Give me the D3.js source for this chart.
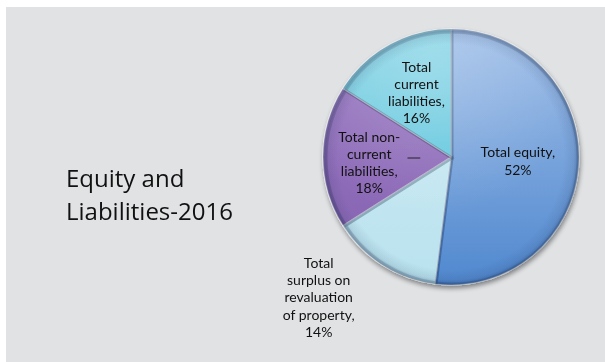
<!DOCTYPE html>
<html>
<head>
<meta charset="utf-8">
<script src="https://cdn.jsdelivr.net/npm/d3@7/dist/d3.min.js"></script>
<style>
  html, body { margin: 0; padding: 0; background: #ffffff; }
  svg { display: block; }
</style>
</head>
<body>
<svg id="chart" width="605" height="362"></svg>
<script>
// Share of equity and liabilities, 2016 (percent)
const categories = [
  "Total equity",
  "Total surplus on revaluation of property",
  "Total non-current liabilities",
  "Total current liabilities"
];
const values = [52, 14, 18, 16];
// Label text, one array entry per line
const labelLines = [
  ["Total equity,", "52%"],
  ["Total", "surplus on", "revaluation", "of property,", "14%"],
  ["Total non-", "current", "liabilities,", "18%"],
  ["Total", "current", "liabilities,", "16%"]
];
const titleLines = ["Equity and", "Liabilities-2016"];

// Slice colours: [light, dark]
const palette = [
  ["#a0bfe8", "#5088cf"],
  ["#d2edf5", "#b9e2ee"],
  ["#9b7bc4", "#8460b0"],
  ["#8fd7e7", "#3fbad6"]
];

const W = 605, H = 362;
const svg = d3.select("#chart");
const defs = svg.append("defs");

// Slide background
svg.append("rect").attr("x", 0).attr("y", 0).attr("width", W).attr("height", H).attr("fill", "#ffffff");
svg.append("rect").attr("x", 6).attr("y", 7).attr("width", W - 6).attr("height", H - 7).attr("fill", "#e1e2e4");

// Title
const title = svg.append("text")
  .attr("x", 66).attr("y", 187)
  .attr("font-family", "'Open Sans', sans-serif")
  .attr("font-size", 24)
  .attr("fill", "#111111");
title.selectAll("tspan").data(titleLines).join("tspan")
  .attr("x", 66)
  .attr("dy", (d, i) => i === 0 ? 0 : 33)
  .text(d => d);

// Pie geometry
const cx = 451, cy = 157, R = 128;
const pie = d3.pie().sort(null).value(d => d).startAngle(0).endAngle(2 * Math.PI);
const arcs = pie(values);
const arc = d3.arc().innerRadius(0).outerRadius(R);

// Gradients per slice (top light to bottom dark)
palette.forEach((c, i) => {
  const gr = defs.append("linearGradient")
    .attr("id", "grad" + i)
    .attr("gradientUnits", "userSpaceOnUse")
    .attr("x1", 0).attr("y1", -R).attr("x2", 0).attr("y2", R);
  gr.append("stop").attr("offset", "0%").attr("stop-color", c[0]);
  gr.append("stop").attr("offset", "100%").attr("stop-color", c[1]);
});

// Rim shading over the whole disc
const rim = defs.append("radialGradient")
  .attr("id", "rim")
  .attr("gradientUnits", "userSpaceOnUse")
  .attr("cx", 0).attr("cy", 0).attr("r", R);
rim.append("stop").attr("offset", "0.88").attr("stop-color", "#1a2c50").attr("stop-opacity", 0);
rim.append("stop").attr("offset", "0.96").attr("stop-color", "#1a2c50").attr("stop-opacity", 0.1);
rim.append("stop").attr("offset", "1").attr("stop-color", "#1a2c50").attr("stop-opacity", 0.35);

// Top gloss
const gloss = defs.append("radialGradient")
  .attr("id", "gloss")
  .attr("gradientUnits", "userSpaceOnUse")
  .attr("cx", -20).attr("cy", -90).attr("r", 150);
gloss.append("stop").attr("offset", "0").attr("stop-color", "#fff").attr("stop-opacity", 0.2);
gloss.append("stop").attr("offset", "1").attr("stop-color", "#fff").attr("stop-opacity", 0);

// Soft drop shadow
const shadow = defs.append("filter").attr("id", "shadow")
  .attr("x", "-20%").attr("y", "-20%").attr("width", "140%").attr("height", "140%");
shadow.append("feGaussianBlur").attr("in", "SourceAlpha").attr("stdDeviation", 2.5).attr("result", "b");
shadow.append("feOffset").attr("in", "b").attr("dx", 1).attr("dy", 3).attr("result", "o");
shadow.append("feComponentTransfer").attr("in", "o").attr("result", "s")
  .append("feFuncA").attr("type", "linear").attr("slope", 0.45);
const merge = shadow.append("feMerge");
merge.append("feMergeNode").attr("in", "s");
merge.append("feMergeNode").attr("in", "SourceGraphic");

const g = svg.append("g").attr("transform", `translate(${cx},${cy})`);

const disc = g.append("g").attr("filter", "url(#shadow)");
disc.selectAll("path.slice").data(arcs).join("path")
  .attr("class", "slice")
  .attr("d", arc)
  .attr("fill", (d, i) => `url(#grad${i})`)
  .attr("stroke", "rgba(255,255,255,0.55)")
  .attr("stroke-width", 1.2)
  .attr("stroke-linejoin", "round");

// Slice-edge shading for a bevelled look
g.selectAll("path.bevel").data(arcs).join("path")
  .attr("class", "bevel")
  .attr("d", d3.arc().innerRadius(0).outerRadius(R - 2))
  .attr("fill", "none")
  .attr("stroke", "rgba(40,60,90,0.18)")
  .attr("stroke-width", 3)
  .attr("transform", "translate(1,1)")
  .style("mix-blend-mode", "multiply");

g.append("circle").attr("r", R).attr("fill", "url(#gloss)");
g.append("circle").attr("r", R).attr("fill", "url(#rim)");

// Labels: radius and angle shift per slice
const labelPlace = [
  { r: 67, da: 0 },
  { r: 193, da: 0.19 },
  { r: 82, da: -0.07 },
  { r: 73, da: 0.01 }
];
const lineH = 17.3;
const labels = g.append("g")
  .attr("font-family", "Lato, 'Open Sans', sans-serif")
  .attr("font-size", 14)
  .attr("fill", "#111111")
  .attr("text-anchor", "middle");

arcs.forEach((d, i) => {
  const p = labelPlace[i];
  const a = (d.startAngle + d.endAngle) / 2 + p.da;
  const x = p.r * Math.sin(a);
  const y = -p.r * Math.cos(a);
  const lines = labelLines[i];
  const y0 = y - (lines.length - 1) * lineH / 2 + 4.8;
  const t = labels.append("text").attr("x", x).attr("y", y0);
  t.selectAll("tspan").data(lines).join("tspan")
    .attr("x", x)
    .attr("dy", (l, k) => k === 0 ? 0 : lineH)
    .text(l => l);
});

// Short leader tick beside the non-current liabilities label
const nc = arcs[2];
const ncA = (nc.startAngle + nc.endAngle) / 2;
g.append("line")
  .attr("x1", -R * 0.34 * Math.sin(ncA + Math.PI)).attr("y1", 1)
  .attr("x2", -R * 0.24 * Math.sin(ncA + Math.PI)).attr("y2", 1)
  .attr("stroke", "#222")
  .attr("stroke-width", 1);
</script>
</body>
</html>
